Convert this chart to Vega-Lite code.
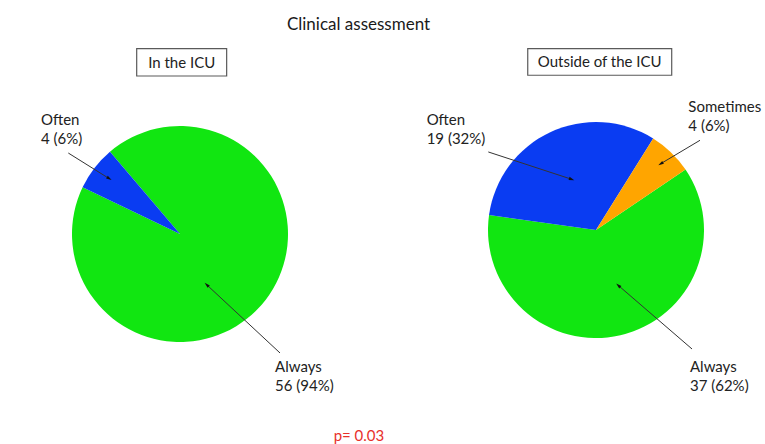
{
  "$schema": "https://vega.github.io/schema/vega-lite/v6.json",
  "background": "white",
  "padding": {"left": 10, "top": 16, "right": 0, "bottom": 0},
  "bounds": "flush",
  "title": {
    "text": "Clinical assessment",
    "anchor": "middle",
    "baseline": "top",
    "dx": -29.5,
    "offset": 0,
    "font": "Lato",
    "fontSize": 17,
    "fontWeight": "normal",
    "color": "#1a1a1a"
  },
  "datasets": {
    "responses": [
      {"setting": "In the ICU", "response": "Always", "level": 1, "n": 56},
      {"setting": "In the ICU", "response": "Often", "level": 2, "n": 4},
      {"setting": "Outside of the ICU", "response": "Always", "level": 1, "n": 37},
      {"setting": "Outside of the ICU", "response": "Often", "level": 2, "n": 19},
      {"setting": "Outside of the ICU", "response": "Sometimes", "level": 3, "n": 4}
    ],
    "callouts": [
      {"setting": "In the ICU", "label": "Often\n4 (6%)", "lx": -1.287, "ly": 1.1, "x": -1.034, "y": 0.731, "x2": -0.655, "y2": 0.494},
      {"setting": "In the ICU", "label": "Always\n56 (94%)", "lx": 0.88, "ly": -1.187, "x": 0.926, "y": -1.12, "x2": 0.247, "y2": -0.488},
      {"setting": "Outside of the ICU", "label": "Often\n19 (32%)", "lx": -1.568, "ly": 1.1, "x": -0.997, "y": 0.741, "x2": -0.225, "y2": 0.488},
      {"setting": "Outside of the ICU", "label": "Sometimes\n4 (6%)", "lx": 0.855, "ly": 1.22, "x": 0.963, "y": 0.849, "x2": 0.599, "y2": 0.632},
      {"setting": "Outside of the ICU", "label": "Always\n37 (62%)", "lx": 0.87, "ly": -1.187, "x": 0.889, "y": -1.083, "x2": 0.206, "y2": -0.494}
    ],
    "headers": [
      {"setting": "In the ICU", "x": -0.401, "x2": 0.432, "y": 1.697, "y2": 1.444, "tx": 0.016, "ty": 1.569},
      {"setting": "Outside of the ICU", "x": -0.632, "x2": 0.701, "y": 1.697, "y2": 1.451, "tx": 0.034, "ty": 1.574}
    ]
  },
  "spacing": 76,
  "resolve": {"scale": {"theta": "independent", "x": "independent", "y": "independent", "color": "shared"}},
  "hconcat": [
    {
      "width": 340,
      "height": 396,
      "layer": [
        {
          "data": {"name": "responses"},
          "transform": [{"filter": "datum.setting === 'In the ICU'"}],
          "mark": {"type": "arc", "outerRadius": 108},
          "encoding": {
            "theta": {"field": "n", "type": "quantitative", "stack": true, "scale": {"range": [5.578, 11.861]}},
            "order": {"field": "level", "type": "quantitative", "sort": "ascending"},
            "color": {"field": "response", "type": "nominal", "scale": {"domain": ["Always", "Often", "Sometimes"], "range": ["#11E611", "#0A3CF2", "#FFA500"]}, "legend": null},
            "x": {"datum": 0, "type": "quantitative", "scale": {"domain": [-1.574, 1.574], "nice": false, "zero": false}, "axis": null},
            "y": {"datum": -0.0185, "type": "quantitative", "scale": {"domain": [-1.833, 1.833], "nice": false, "zero": false}, "axis": null}
          }
        },
        {
          "data": {"name": "callouts"},
          "transform": [{"filter": "datum.setting === 'In the ICU'"}],
          "mark": {"type": "rule", "color": "#333333", "strokeWidth": 1},
          "encoding": {
            "x": {"field": "x", "type": "quantitative", "axis": null},
            "y": {"field": "y", "type": "quantitative", "axis": null},
            "x2": {"field": "x2"},
            "y2": {"field": "y2"}
          }
        },
        {
          "data": {"name": "callouts"},
          "transform": [{"filter": "datum.setting === 'In the ICU'"}],
          "mark": {"type": "point", "filled": true, "opacity": 1, "color": "#111111", "size": 30, "shape": "M0,-1L0.6,1L-0.6,1Z", "angle": {"expr": "atan2(datum.x2 - datum.x, datum.y2 - datum.y) * 180 / PI"}},
          "encoding": {
            "x": {"field": "x2", "type": "quantitative", "axis": null},
            "y": {"field": "y2", "type": "quantitative", "axis": null}
          }
        },
        {
          "data": {"name": "callouts"},
          "transform": [{"filter": "datum.setting === 'In the ICU'"}],
          "mark": {"type": "text", "align": "left", "baseline": "top", "lineBreak": "\n", "lineHeight": 19, "font": "Lato", "fontSize": 15, "color": "#222222"},
          "encoding": {
            "x": {"field": "lx", "type": "quantitative", "axis": null},
            "y": {"field": "ly", "type": "quantitative", "axis": null},
            "text": {"field": "label"}
          }
        },
        {
          "data": {"name": "headers"},
          "transform": [{"filter": "datum.setting === 'In the ICU'"}],
          "mark": {"type": "rect", "fill": "white", "stroke": "#5a5a5a", "strokeWidth": 1.2},
          "encoding": {
            "x": {"field": "x", "type": "quantitative", "axis": null},
            "x2": {"field": "x2"},
            "y": {"field": "y", "type": "quantitative", "axis": null},
            "y2": {"field": "y2"}
          }
        },
        {
          "data": {"name": "headers"},
          "transform": [{"filter": "datum.setting === 'In the ICU'"}],
          "mark": {"type": "text", "align": "center", "baseline": "middle", "font": "Lato", "fontSize": 15, "color": "#222222"},
          "encoding": {
            "x": {"field": "tx", "type": "quantitative", "axis": null},
            "y": {"field": "ty", "type": "quantitative", "axis": null},
            "text": {"field": "setting"}
          }
        },
        {
          "data": {"values": [{"note": "p= 0.03", "x": 1.657, "y": -1.885}]},
          "mark": {"type": "text", "align": "center", "baseline": "middle", "font": "Lato", "fontSize": 15, "color": "#E8302A"},
          "encoding": {
            "x": {"field": "x", "type": "quantitative", "axis": null},
            "y": {"field": "y", "type": "quantitative", "axis": null},
            "text": {"field": "note"}
          }
        }
      ]
    },
    {
      "width": 340,
      "height": 396,
      "layer": [
        {
          "data": {"name": "responses"},
          "transform": [{"filter": "datum.setting === 'Outside of the ICU'"}],
          "mark": {"type": "arc", "outerRadius": 108},
          "encoding": {
            "theta": {"field": "n", "type": "quantitative", "stack": true, "scale": {"range": [0.977, 7.26]}},
            "order": {"field": "level", "type": "quantitative", "sort": "ascending"},
            "color": {"field": "response", "type": "nominal", "scale": {"domain": ["Always", "Often", "Sometimes"], "range": ["#11E611", "#0A3CF2", "#FFA500"]}, "legend": null},
            "x": {"datum": 0, "type": "quantitative", "scale": {"domain": [-1.574, 1.574], "nice": false, "zero": false}, "axis": null},
            "y": {"datum": 0.0185, "type": "quantitative", "scale": {"domain": [-1.833, 1.833], "nice": false, "zero": false}, "axis": null}
          }
        },
        {
          "data": {"name": "callouts"},
          "transform": [{"filter": "datum.setting === 'Outside of the ICU'"}],
          "mark": {"type": "rule", "color": "#333333", "strokeWidth": 1},
          "encoding": {
            "x": {"field": "x", "type": "quantitative", "axis": null},
            "y": {"field": "y", "type": "quantitative", "axis": null},
            "x2": {"field": "x2"},
            "y2": {"field": "y2"}
          }
        },
        {
          "data": {"name": "callouts"},
          "transform": [{"filter": "datum.setting === 'Outside of the ICU'"}],
          "mark": {"type": "point", "filled": true, "opacity": 1, "color": "#111111", "size": 30, "shape": "M0,-1L0.6,1L-0.6,1Z", "angle": {"expr": "atan2(datum.x2 - datum.x, datum.y2 - datum.y) * 180 / PI"}},
          "encoding": {
            "x": {"field": "x2", "type": "quantitative", "axis": null},
            "y": {"field": "y2", "type": "quantitative", "axis": null}
          }
        },
        {
          "data": {"name": "callouts"},
          "transform": [{"filter": "datum.setting === 'Outside of the ICU'"}],
          "mark": {"type": "text", "align": "left", "baseline": "top", "lineBreak": "\n", "lineHeight": 19, "font": "Lato", "fontSize": 15, "color": "#222222"},
          "encoding": {
            "x": {"field": "lx", "type": "quantitative", "axis": null},
            "y": {"field": "ly", "type": "quantitative", "axis": null},
            "text": {"field": "label"}
          }
        },
        {
          "data": {"name": "headers"},
          "transform": [{"filter": "datum.setting === 'Outside of the ICU'"}],
          "mark": {"type": "rect", "fill": "white", "stroke": "#5a5a5a", "strokeWidth": 1.2},
          "encoding": {
            "x": {"field": "x", "type": "quantitative", "axis": null},
            "x2": {"field": "x2"},
            "y": {"field": "y", "type": "quantitative", "axis": null},
            "y2": {"field": "y2"}
          }
        },
        {
          "data": {"name": "headers"},
          "transform": [{"filter": "datum.setting === 'Outside of the ICU'"}],
          "mark": {"type": "text", "align": "center", "baseline": "middle", "font": "Lato", "fontSize": 15, "color": "#222222"},
          "encoding": {
            "x": {"field": "tx", "type": "quantitative", "axis": null},
            "y": {"field": "ty", "type": "quantitative", "axis": null},
            "text": {"field": "setting"}
          }
        }
      ]
    }
  ],
  "config": {"view": {"stroke": null}}
}
